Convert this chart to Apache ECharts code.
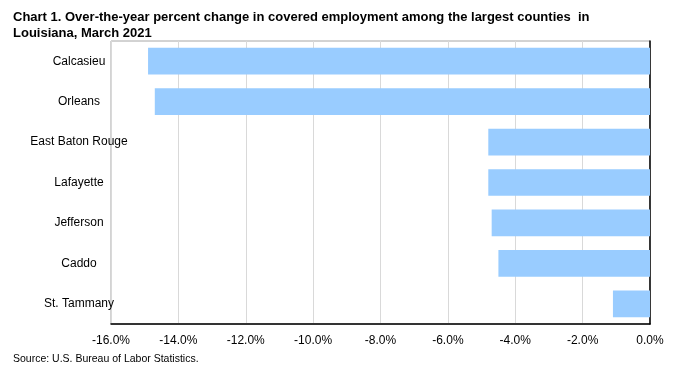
<!DOCTYPE html>
<html><head><meta charset="utf-8">
<script src="https://cdn.jsdelivr.net/npm/echarts@6/dist/echarts.min.js"></script>
<style>html,body{margin:0;padding:0;background:#fff}#c{width:673px;height:366px}</style>
</head><body><div id="c"></div>
<script>
var categories = ['Calcasieu', 'Orleans', 'East Baton Rouge', 'Lafayette', 'Jefferson', 'Caddo', 'St. Tammany'];
var values = [-14.9, -14.7, -4.8, -4.8, -4.7, -4.5, -1.1];
var titleText = 'Chart 1. Over-the-year percent change in covered employment among the largest counties  in\nLouisiana, March 2021';
var sourceText = 'Source: U.S. Bureau of Labor Statistics.';

var chart = echarts.init(document.getElementById('c'));
chart.setOption({
  animation: false,
  title: [{
    text: titleText, left: 8, top: 4,
    textStyle: {fontFamily: 'Liberation Sans, Arial', fontWeight: 'bold', fontSize: 13, color: '#000', lineHeight: 16}
  }, {
    text: sourceText, left: 8, top: 349,
    textStyle: {fontFamily: 'Liberation Sans, Arial', fontWeight: 'normal', fontSize: 10.5, color: '#000'}
  }],
  grid: {left: 111, right: 23, top: 41, bottom: 42, show: true, borderColor: '#a6a6a6', borderWidth: 1},
  xAxis: {
    type: 'value', min: -16, max: 0, interval: 2,
    axisLine: {show: true, onZero: false, lineStyle: {color: '#000', width: 1.5}},
    axisTick: {show: false},
    splitLine: {show: true, lineStyle: {color: '#d9d9d9', width: 1}},
    axisLabel: {formatter: function (v) { return v.toFixed(1) + '%'; }, fontFamily: 'Liberation Sans, Arial', fontSize: 12, color: '#000', margin: 11}
  },
  yAxis: [{
    type: 'category', data: categories, inverse: true, position: 'left',
    axisLine: {show: false}, axisTick: {show: false},
    axisLabel: {align: 'center', margin: 32, fontFamily: 'Liberation Sans, Arial', fontSize: 12, color: '#000'}
  }, {
    type: 'category', data: categories, inverse: true, position: 'right',
    axisLine: {show: true, lineStyle: {color: '#000', width: 1.5}}, axisTick: {show: false}, axisLabel: {show: false}
  }],
  series: [{
    type: 'bar', data: values, barCategoryGap: '34%',
    itemStyle: {color: '#99ccff'}
  }]
});
</script></body></html>
